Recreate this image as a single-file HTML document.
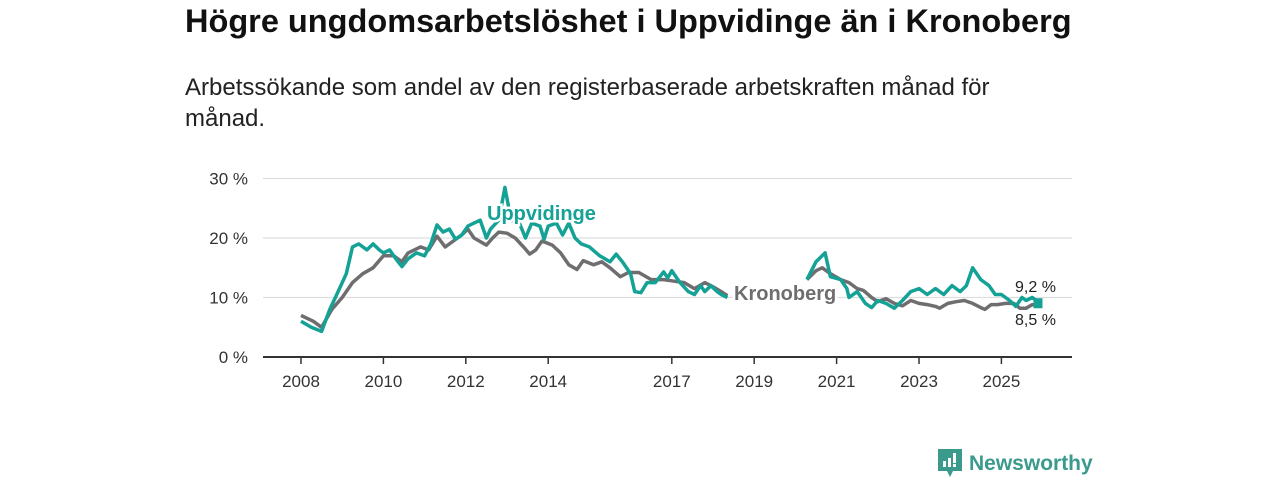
<!DOCTYPE html>
<html><head><meta charset="utf-8">
<style>
body{margin:0;background:#fff;width:1280px;height:480px;overflow:hidden;font-family:"Liberation Sans",sans-serif;}
#title{position:absolute;left:185px;top:3px;font-size:32.5px;font-weight:bold;color:#111;white-space:nowrap}
#sub{position:absolute;left:185px;top:72px;font-size:24px;color:#222;line-height:31px;width:850px}
svg{position:absolute;left:0;top:0}
#logo{position:absolute;left:938px;top:449px;display:flex;align-items:center;gap:7px;color:#3a9a8c;font-size:21px;font-weight:bold}
</style></head><body>
<div id="title">Högre ungdomsarbetslöshet i Uppvidinge än i Kronoberg</div>
<div id="sub">Arbetssökande som andel av den registerbaserade arbetskraften månad för månad.</div>
<svg id="chart" width="1280" height="480"></svg>
<div id="logo">
<svg width="24" height="30" viewBox="0 0 24 30" style="position:static"><path d="M0 0H24V22H15L12 28L9 22H0Z" fill="#3a9a8c"/><rect x="5" y="12" width="3" height="6" fill="#fff"/><rect x="10" y="9" width="3" height="9" fill="#fff"/><rect x="15" y="4" width="3" height="10" fill="#fff"/><rect x="15" y="15" width="3" height="3" fill="#fff"/></svg>
<span>Newsworthy</span></div>
<script>
const yTicks=[0,10,20,30];
const xTickYears=[2008,2010,2012,2014,2017,2019,2021,2023,2025];
const uppT=[2008.0,2008.25,2008.5,2008.7,2008.9,2009.1,2009.25,2009.4,2009.6,2009.75,2009.9,2010.0,2010.15,2010.3,2010.45,2010.6,2010.8,2011.0,2011.15,2011.3,2011.45,2011.6,2011.75,2011.9,2012.05,2012.2,2012.35,2012.5,2012.6,2012.8,2012.95,2013.1,2013.3,2013.45,2013.6,2013.8,2013.9,2014.0,2014.2,2014.35,2014.5,2014.65,2014.8,2015.0,2015.25,2015.5,2015.65,2015.8,2016.0,2016.1,2016.25,2016.4,2016.6,2016.8,2016.9,2017.0,2017.2,2017.4,2017.55,2017.7,2017.8,2017.95,2018.1,2018.2,2018.35,
null,2020.28,2020.5,2020.72,2020.85,2021.1,2021.25,2021.3,2021.5,2021.7,2021.85,2022.0,2022.2,2022.4,2022.6,2022.8,2023.0,2023.2,2023.4,2023.6,2023.8,2024.0,2024.15,2024.3,2024.5,2024.7,2024.85,2025.0,2025.2,2025.35,2025.5,2025.6,2025.75,2025.9];
const uppV=[6.0,5.0,4.3,8,11,14,18.5,19,18,19,18,17.5,18,16.5,15.2,16.5,17.5,17,19,22.2,21,21.5,19.8,20.5,22,22.5,23,20,21.5,23,28.5,23,22.5,20,22.5,22,19.8,22,22.5,20.5,22.5,20,19,18.5,17,16,17.3,16,14,11,10.8,12.5,12.5,14.3,13.3,14.5,12.5,11,10.5,12,11,12,11,10.5,10,
null,13,16,17.5,13.5,13,11.5,10,11,9,8.3,9.5,9,8.2,9.5,11,11.5,10.5,11.5,10.5,12,11,12,15,13,12,10.5,10.5,9.5,8.5,10,9.5,10,9.2];
const kroT=[2008.0,2008.3,2008.5,2008.75,2009.0,2009.25,2009.5,2009.75,2010.0,2010.25,2010.45,2010.6,2010.9,2011.1,2011.3,2011.5,2011.7,2011.9,2012.05,2012.2,2012.5,2012.65,2012.8,2013.0,2013.2,2013.4,2013.55,2013.7,2013.85,2014.1,2014.3,2014.5,2014.7,2014.85,2015.1,2015.3,2015.5,2015.75,2015.95,2016.2,2016.5,2016.8,2017.0,2017.3,2017.55,2017.8,2018.0,2018.2,2018.35,
null,2020.28,2020.5,2020.65,2020.85,2021.1,2021.3,2021.5,2021.65,2021.85,2022.0,2022.2,2022.4,2022.6,2022.8,2023.0,2023.2,2023.4,2023.5,2023.7,2023.9,2024.1,2024.3,2024.5,2024.6,2024.75,2024.9,2025.1,2025.3,2025.45,2025.6,2025.75,2025.9];
const kroV=[7,6,5,8,10,12.5,14,15,17,17,16,17.5,18.5,18,20.3,18.5,19.5,20.5,21.5,20,18.8,20,21,20.8,20,18.5,17.3,18,19.5,18.8,17.5,15.5,14.7,16.2,15.5,16,15,13.5,14.2,14.2,13,13,12.8,12.5,11.5,12.5,11.8,11,10.3,
null,13,14.5,15,14,13,12.5,11.5,11.2,10,9.3,9.8,9,8.6,9.5,9,8.8,8.5,8.2,9,9.3,9.5,9,8.3,8,8.8,8.8,9,9,8.2,8.2,8.8,8.5];
const NS="http://www.w3.org/2000/svg";
const svg=document.getElementById('chart');
const x=t=>301+(t-2008)*41.2;
const y=v=>357-v*5.95;
function mk(tag,attrs,parent){const e=document.createElementNS(NS,tag);for(const k in attrs)e.setAttribute(k,attrs[k]);(parent||svg).appendChild(e);return e;}
yTicks.forEach(v=>{
  if(v>0){const g=mk('line',{x1:263,x2:1072,y1:y(v),y2:y(v),stroke:'#ddd','stroke-width':1.3});
  
  }
  const t=mk('text',{x:248,y:y(v)+6,'text-anchor':'end','font-size':17,fill:'#333','font-family':'Liberation Sans, sans-serif'});
  t.textContent=v+' %';
  
  
});
const ax=mk('line',{x1:263,x2:1072,y1:357,y2:357,stroke:'#333','stroke-width':2});


xTickYears.forEach(yr=>{
  const l=mk('line',{x1:x(yr),x2:x(yr),y1:357,y2:364,stroke:'#333','stroke-width':1.5});
  
  
  const t=mk('text',{x:x(yr),y:387,'text-anchor':'middle','font-size':17,fill:'#333','font-family':'Liberation Sans, sans-serif'});
  t.textContent=yr;
  
  
});
function pathD(T,V){let d='',pen=false;for(let i=0;i<T.length;i++){if(T[i]===null){pen=false;continue;}d+=(pen?'L':'M')+x(T[i]).toFixed(1)+' '+y(V[i]).toFixed(1);pen=true;}return d;}
const kp=mk('path',{d:pathD(kroT,kroV),fill:'none',stroke:'#6f6d70','stroke-width':3.5,'stroke-linejoin':'round'});


const up=mk('path',{d:pathD(uppT,uppV),fill:'none',stroke:'#14a196','stroke-width':3.5,'stroke-linejoin':'round'});


const lu=uppT.length-1;
const dot=mk('rect',{x:x(uppT[lu])-5,y:y(uppV[lu])-4,width:9,height:10,fill:'#14a196'});


function lab(txt,xx,yy,col,name){const t=mk('text',{x:xx,y:yy,'font-size':20,'font-weight':'bold',fill:col,'font-family':'Liberation Sans, sans-serif',stroke:'#fff','stroke-width':5,'paint-order':'stroke'});t.textContent=txt;

}
lab('Uppvidinge',487,220,'#14a196','uppvidinge-label');
lab('Kronoberg',734,300,'#6f6d70','kronoberg-label');
const l1=mk('text',{x:1015,y:292,'font-size':16,fill:'#222','font-family':'Liberation Sans, sans-serif'});l1.textContent=uppV[lu].toFixed(1).replace('.',',')+' %';


const l2=mk('text',{x:1015,y:325,'font-size':16,fill:'#222','font-family':'Liberation Sans, sans-serif'});l2.textContent=kroV[kroV.length-1].toFixed(1).replace('.',',')+' %';


</script>
</body></html>
